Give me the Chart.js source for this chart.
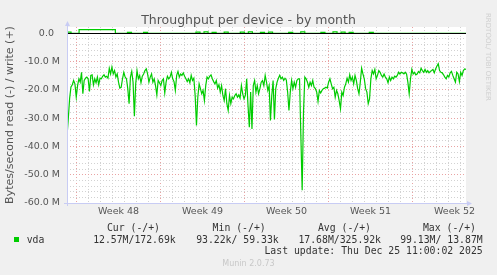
<!DOCTYPE html>
<html>
<head>
<meta charset="utf-8">
<script src="https://cdn.jsdelivr.net/npm/chart.js@4.4.1/dist/chart.umd.min.js"></script>
<style>
  body { margin: 0; background: #f0f0f0; width: 497px; height: 275px; overflow: hidden; position: relative; font-family: "DejaVu Sans", sans-serif; }
  #chart { position: absolute; left: 0; top: 0; }
  .t { position: absolute; white-space: pre; line-height: 1; }
  .mono { font-family: "DejaVu Sans Mono", monospace; font-size: 9.8px; color: #333; }
</style>
</head>
<body>
<canvas id="chart" width="497" height="275"></canvas>

<div class="t" style="left:0;width:497px;text-align:center;top:13.5px;font-size:12.5px;color:#555">Throughput per device - by month</div>
<div class="t" style="left:491.4px;top:13px;font-size:7px;color:#d0d0d0;transform:rotate(90deg);transform-origin:0 0">RRDTOOL/ TOBI OETIKER</div>

<div class="t mono" style="right:337px;top:223.3px">Cur (-/+)</div>
<div class="t mono" style="right:231.3px;top:223.3px">Min (-/+)</div>
<div class="t mono" style="right:126px;top:223.3px">Avg (-/+)</div>
<div class="t mono" style="right:21px;top:223.3px">Max (-/+)</div>

<div class="t" style="left:14px;top:237px;width:5px;height:5px;background:#00cc00"></div>
<div class="t mono" style="left:26.7px;top:234.5px">vda</div>
<div class="t mono" style="right:321.3px;top:234.5px">12.57M/172.69k</div>
<div class="t mono" style="right:218.3px;top:234.5px">93.22k/ 59.33k</div>
<div class="t mono" style="right:116px;top:234.5px">17.68M/325.92k</div>
<div class="t mono" style="right:14.3px;top:234.5px">99.13M/ 13.87M</div>

<div class="t mono" style="right:14.3px;top:246.3px">Last update: Thu Dec 25 11:00:02 2025</div>
<div class="t" style="left:0;width:497px;text-align:center;top:260.2px;font-size:8px;color:#c8c8c8">Munin 2.0.73</div>

<script>
// time axis, in days from the left edge of the graph
const spanDays = 33.25;
const firstWeekStart = 0.8;
const weekLabels = ["Week 48", "Week 49", "Week 50", "Week 51", "Week 52"];

// vda read, MB/s (drawn negative), evenly sampled over the span
const readValues = [
    -36.4, -30, -23, -19, -18.2, -16.7, -17.9, -22.6, -18.5, -16.1,
    -17.3, -13.8, -21.4, -16.7, -15.9, -15.5, -16.1, -20.6, -14.9, -14.7,
    -18.2, -16.1, -17.5, -15.5, -18.2, -15.9, -16.1, -15.2, -14.7, -15.5,
    -15.2, -15.9, -12.4, -14.4, -12.0, -14.4, -13.2, -15.5, -14.4, -17.3,
    -19.4, -19.1, -16.1, -13.8, -15.5, -16.1, -19.6, -24.9, -15.5, -13.5,
    -17.3, -29.3, -17.9, -13.2, -16.1, -14.9, -17.5, -15.2, -14.4, -13.2,
    -12.6, -14.4, -17.3, -15.5, -14.4, -17.3, -16.1, -18.5, -21.8, -16.7,
    -17.5, -18.5, -16.7, -16.1, -21.1, -17.3, -15.2, -16.1,
    -15.5, -13.8, -16.1, -17.1, -20.2, -14.9, -13.5, -15.5, -14.4, -14.9,
    -14.0, -15.2, -16.1, -17.1, -16.1, -17.5, -14.9, -16.7, -15.9, -22.0,
    -32.6, -22.6, -17.9, -19.6, -21.4, -20.2, -23.8, -18.5, -15.5, -16.1,
    -15.2, -14.7, -16.1, -17.1, -17.9, -16.7, -19.4, -18.2, -20.8, -18.5,
    -22.0, -23.8, -19.6, -24.9, -27.3, -22.0, -24.9, -22.6, -23.2, -22.0,
    -21.4, -22.6, -21.8, -22.9, -18.5, -21.4, -23.2, -22.0, -16.1, -25.5,
    -33.2, -20.8, -33.8, -18.5, -16.7, -20.8, -18.5, -21.4, -19.6, -17.3,
    -16.7, -18.5, -14.9, -17.3, -20.2,
    -18.5, -30.8, -22.0, -16.7, -30.5, -19.6, -17.3, -15.9, -14.9, -16.1,
    -15.5, -16.7, -15.9, -16.5, -20.8, -27.3, -20.8, -16.7, -19.6, -17.3,
    -19.1, -16.7, -16.1, -16.1, -36.1, -55.5, -27.9, -15.5, -16.1, -17.3,
    -19.1, -17.3, -18.5, -16.7, -19.1, -19.6, -20.8, -24.1, -20.2, -21.1,
    -20.2, -19.6, -19.4, -19.1, -19.4, -17.3, -16.1, -17.9, -19.6, -19.1,
    -22.6, -20.2, -21.4, -23.8, -26.7, -20.8, -22.0, -19.1, -17.9, -15.9,
    -17.3, -14.7, -16.7, -15.5, -17.9, -14.9, -16.7, -19.6, -21.4, -17.3,
    -12.4, -14.4, -16.1, -19.6, -20.8,
    -24.9, -23.2, -16.1, -13.2, -14.4, -12.8, -16.1, -14.9, -13.2, -13.8,
    -14.9, -15.5, -14.4, -15.5, -16.1, -17.5, -15.5, -16.7, -15.5, -16.1,
    -15.2, -15.5, -14.9, -13.8, -14.4, -13.8, -14.0, -14.4, -13.8, -14.4,
    -17.3, -21.4, -16.1, -12.8, -14.4, -13.8, -14.7, -14.4, -13.5, -14.0,
    -12.4, -13.2, -13.8, -12.8, -13.8, -13.2, -14.0, -13.5, -13.2, -12.8,
    -14.0, -12.6, -11.6, -10.8, -13.2, -13.8, -14.0, -14.7, -15.5, -16.1,
    -14.9, -15.5, -14.0, -13.5, -14.9, -16.1, -17.3, -13.8, -14.4, -17.1,
    -13.8, -14.9, -13.2, -12.6, -12.8
];

// vda write, MB/s (drawn positive), coarser sampling
const writeValues = [
    0.4, 0, 0, 1.3, 1.3, 1.3, 1.3, 1.3, 1.3, 1.3,
    1.3, 1.3, 0, 0, 0, 0.3, 0, 0, 0, 0.3,
    0, 0, 0, 0, 0, 0, 0, 0, 0, 0,
    0, 0, 0.4, 0, 0.5, 0, 0.3, 0, 0, 0.4,
    0, 0, 0, 0.4, 0, 0.5, 0, 0, 0.3, 0,
    0.4, 0, 0, 0, 0, 0.3, 0, 0, 0.5, 0,
    0, 0, 0, 0.3, 0, 0, 0.5, 0, 0.4, 0,
    0.3, 0, 0, 0, 0, 0.3, 0, 0, 0, 0,
    0, 0, 0, 0, 0, 0, 0, 0, 0, 0,
    0, 0, 0, 0, 0, 0, 0, 0, 0, 0
];

const green = "#00cc00";
const majorGrid = "#e9a3a3";
const minorGrid = "#d2d2d2";
const clear = "rgba(0,0,0,0)";

function spread(values) {
    const step = spanDays / (values.length - 1);
    return values.map((v, i) => ({ x: i * step, y: v }));
}

const frame = {
    id: "frame",
    beforeDraw(chart) {
        const { ctx, chartArea: a } = chart;
        ctx.save();
        ctx.fillStyle = "#ffffff";
        ctx.fillRect(a.left, a.top, a.right - a.left, a.bottom - a.top);
        ctx.restore();
    },
    afterDatasetsDraw(chart) {
        const { ctx, chartArea: a, scales } = chart;
        const y0 = Math.round(scales.y.getPixelForValue(0)) + 0.5;
        ctx.save();
        ctx.strokeStyle = "#000";
        ctx.lineWidth = 1;
        ctx.beginPath();
        ctx.moveTo(a.left, y0);
        ctx.lineTo(a.right, y0);
        ctx.stroke();

        // axis lines with arrows, rrdtool style
        const ax = Math.round(a.left) + 0.5;
        const ay = Math.round(a.bottom) + 0.5;
        ctx.strokeStyle = "#c8ccf4";
        ctx.fillStyle = "#c8ccf4";
        ctx.beginPath();
        ctx.moveTo(ax, a.bottom + 3);
        ctx.lineTo(ax, a.top - 2);
        ctx.moveTo(a.left - 3, ay);
        ctx.lineTo(a.right + 2, ay);
        ctx.stroke();
        ctx.beginPath();
        ctx.moveTo(ax - 2.5, a.top - 1);
        ctx.lineTo(ax + 2.5, a.top - 1);
        ctx.lineTo(ax, a.top - 6);
        ctx.closePath();
        ctx.fill();
        ctx.beginPath();
        ctx.moveTo(a.right + 1, ay - 2.5);
        ctx.lineTo(a.right + 1, ay + 2.5);
        ctx.lineTo(a.right + 6, ay);
        ctx.closePath();
        ctx.fill();
        ctx.restore();
    }
};

Chart.defaults.font.family = "'DejaVu Sans', sans-serif";
Chart.defaults.color = "#555";

new Chart(document.getElementById("chart"), {
    type: "line",
    data: {
        datasets: [
            {
                label: "read",
                data: spread(readValues),
                borderColor: green,
                borderWidth: 1.2,
                pointRadius: 0,
                tension: 0,
                fill: false
            },
            {
                label: "write",
                data: spread(writeValues),
                borderColor: green,
                borderWidth: 1.2,
                pointRadius: 0,
                stepped: true,
                fill: false
            }
        ]
    },
    options: {
        responsive: false,
        animation: false,
        devicePixelRatio: 1,
        layout: { padding: { top: 27, right: 31, bottom: 0, left: 0 } },
        plugins: {
            legend: { display: false },
            tooltip: { enabled: false }
        },
        scales: {
            x: {
                type: "linear",
                min: 0,
                max: spanDays,
                afterBuildTicks(scale) {
                    const ticks = [];
                    for (let k = 0; firstWeekStart + k * 0.5 <= spanDays; k++) {
                        ticks.push({ value: firstWeekStart + k * 0.5 });
                    }
                    scale.ticks = ticks;
                },
                afterFit(scale) { scale.height = 72; },
                border: { display: false, dash: [1, 2] },
                grid: {
                    drawTicks: false,
                    lineWidth: 1,
                    color(ctx) {
                        const i = ctx.index;
                        if (i % 2) return clear;
                        return (i / 2) % 7 === 0 ? majorGrid : minorGrid;
                    }
                },
                ticks: {
                    autoSkip: false,
                    maxRotation: 0,
                    padding: 3,
                    font: { size: 9.5 },
                    color: "#555",
                    callback(value, index) {
                        return index % 14 === 7 ? weekLabels[(index - 7) / 14] : "";
                    }
                }
            },
            y: {
                min: -60,
                max: 2.2,
                afterFit(scale) { scale.width = 67; },
                border: { display: false, dash: [1, 2] },
                grid: {
                    drawTicks: false,
                    lineWidth: 1,
                    color(ctx) {
                        const v = ctx.tick.value;
                        if (v > 0) return clear;
                        return v % 10 === 0 ? majorGrid : minorGrid;
                    }
                },
                title: {
                    display: true,
                    text: "Bytes/second read (-) / write (+)",
                    font: { size: 11 },
                    color: "#555"
                },
                ticks: {
                    stepSize: 2,
                    autoSkip: false,
                    padding: 7,
                    font: { size: 9.5 },
                    color: "#555",
                    callback(value) {
                        if (value > 0 || value % 10 !== 0) return "";
                        return value === 0 ? "0.0  " : value.toFixed(1) + " M";
                    }
                }
            }
        }
    },
    plugins: [frame]
});
</script>
</body>
</html>
